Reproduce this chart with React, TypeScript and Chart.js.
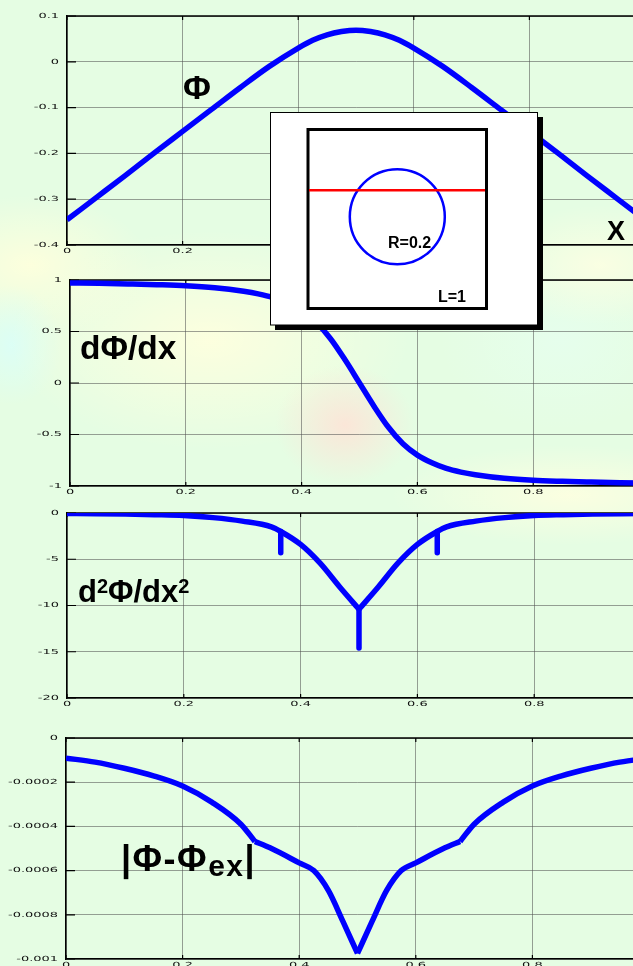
import React, { useEffect, useRef } from 'react';
import { Chart, registerables } from 'chart.js';

Chart.register(...registerables);

// ---------- data ----------
const X_TICKS = [0, 0.2, 0.4, 0.6, 0.8, 1];
const X_TICK_LABELS = ['0', '0.2', '0.4', '0.6', '0.8', '1'];

// Φ(x)
const PHI_X = [0, 0.05, 0.1, 0.15, 0.2, 0.25, 0.3, 0.35, 0.4, 0.425, 0.45, 0.475, 0.5, 0.525, 0.55, 0.575, 0.6, 0.65, 0.7, 0.75, 0.8, 0.85, 0.9, 0.95, 1];
const PHI_Y = [-0.345, -0.297, -0.249, -0.2, -0.152, -0.104, -0.056, -0.01, 0.03, 0.047, 0.059, 0.066, 0.069, 0.066, 0.059, 0.047, 0.03, -0.01, -0.056, -0.104, -0.152, -0.2, -0.249, -0.297, -0.345];
const PHI_Y_TICKS = [-0.4, -0.3, -0.2, -0.1, 0, 0.1];
const PHI_Y_LABELS = ['-0.4', '-0.3', '-0.2', '-0.1', '0', '0.1'];

// dΦ/dx
const DPHI_X = [0, 0.05, 0.1, 0.15, 0.2, 0.25, 0.3, 0.325, 0.35, 0.375, 0.4, 0.425, 0.45, 0.475, 0.5, 0.525, 0.55, 0.575, 0.6, 0.625, 0.65, 0.675, 0.7, 0.75, 0.8, 0.85, 0.9, 0.95, 1];
const DPHI_Y = [0.972, 0.968, 0.962, 0.955, 0.945, 0.925, 0.89, 0.865, 0.83, 0.775, 0.7, 0.59, 0.43, 0.225, 0, -0.225, -0.43, -0.59, -0.7, -0.775, -0.83, -0.865, -0.89, -0.925, -0.945, -0.955, -0.962, -0.968, -0.972];
const DPHI_Y_TICKS = [-1, -0.5, 0, 0.5, 1];
const DPHI_Y_LABELS = ['-1', '-0.5', '0', '0.5', '1'];

// d²Φ/dx²
const D2_X = [0, 0.05, 0.1, 0.15, 0.2, 0.25, 0.3, 0.35, 0.366, 0.4, 0.433, 0.467, 0.5, 0.533, 0.567, 0.6, 0.634, 0.65, 0.7, 0.75, 0.8, 0.85, 0.9, 0.95, 1];
const D2_Y = [-0.05, -0.08, -0.12, -0.18, -0.27, -0.5, -0.88, -1.5, -2.0, -3.4, -5.4, -8.0, -10.4, -8.0, -5.4, -3.4, -2.0, -1.5, -0.88, -0.5, -0.27, -0.18, -0.12, -0.08, -0.05];
const D2_BREAKS = [0, 0.5, 1];
const D2_SPIKE_X = [0.366, 0.5, 0.634];
const D2_SPIKE_TOP = [-2.0, -10.4, -2.0];
const D2_SPIKE_BOTTOM = [-4.3, -14.6, -4.3];
const D2_Y_TICKS = [-20, -15, -10, -5, 0];
const D2_Y_LABELS = ['-20', '-15', '-10', '-5', '0'];

// |Φ-Φex|
const ERR_X = [0, 0.05, 0.1, 0.15, 0.2, 0.25, 0.3, 0.324, 0.35, 0.4, 0.425, 0.45, 0.475, 0.5, 0.525, 0.55, 0.575, 0.6, 0.65, 0.676, 0.7, 0.75, 0.8, 0.85, 0.9, 0.95, 1];
const ERR_Y = [-0.000091, -0.000109, -0.000137, -0.000171, -0.000217, -0.00029, -0.00039, -0.000468, -0.000497, -0.000565, -0.0006, -0.00069, -0.00083, -0.000975, -0.00083, -0.00069, -0.0006, -0.000565, -0.000497, -0.000468, -0.00039, -0.00029, -0.000217, -0.000171, -0.000137, -0.000109, -0.000091];
const ERR_BREAKS = [0, 0.324, 0.5, 0.676, 1];
const ERR_Y_TICKS = [-0.001, -0.0008, -0.0006, -0.0004, -0.0002, 0];
const ERR_Y_LABELS = ['-0.001', '-0.0008', '-0.0006', '-0.0004', '-0.0002', '0'];

// ---------- helpers ----------
const BLUE = '#0000ff';
const LABEL_SX = 1.85;

function segments(xs: number[], ys: number[], breaks: number[]) {
  const out: { x: number; y: number }[][] = [];
  for (let i = 0; i < breaks.length - 1; i++) {
    const seg: { x: number; y: number }[] = [];
    xs.forEach((x, j) => {
      if (x >= breaks[i] - 1e-9 && x <= breaks[i + 1] + 1e-9) seg.push({ x, y: ys[j] });
    });
    out.push(seg);
  }
  return out;
}

function lineDs(data: { x: number; y: number }[], extra: any = {}) {
  return {
    data,
    borderColor: BLUE,
    borderWidth: 5.5,
    pointRadius: 0,
    fill: false,
    cubicInterpolationMode: 'monotone',
    borderCapStyle: 'butt',
    borderJoinStyle: 'round',
    ...extra,
  };
}

const framePlugin = {
  id: 'frame',
  beforeDatasetsDraw(chart: any) {
    const { ctx, chartArea: a, scales } = chart;
    ctx.save();
    ctx.strokeStyle = '#000';
    ctx.lineWidth = 1.5;
    ctx.beginPath();
    ctx.moveTo(a.left, a.top);
    ctx.lineTo(a.right, a.top);
    ctx.stroke();
    ctx.lineWidth = 1.2;
    ctx.beginPath();
    for (const t of scales.y.ticks) {
      const y = scales.y.getPixelForValue(t.value);
      ctx.moveTo(a.left, y);
      ctx.lineTo(a.left + 9, y);
    }
    for (const t of scales.x.ticks) {
      const x = scales.x.getPixelForValue(t.value);
      ctx.moveTo(x, a.bottom);
      ctx.lineTo(x, a.bottom - 4);
      ctx.moveTo(x, a.top);
      ctx.lineTo(x, a.top + 4);
    }
    ctx.stroke();
    ctx.restore();
  },
};

function makeLabelPlugin(yLabels: string[]) {
  return {
    id: 'stretchLabels',
    afterDraw(chart: any) {
      const { ctx, chartArea: a, scales } = chart;
      ctx.save();
      ctx.fillStyle = '#111';
      ctx.font = '7px "DejaVu Sans"';
      ctx.textBaseline = 'middle';
      scales.y.ticks.forEach((t: any, i: number) => {
        const y = scales.y.getPixelForValue(t.value);
        ctx.save();
        ctx.translate(a.left - 8, y);
        ctx.scale(LABEL_SX, 1);
        ctx.textAlign = 'right';
        ctx.fillText(yLabels[i], 0, 0);
        ctx.restore();
      });
      scales.x.ticks.forEach((t: any, i: number) => {
        const x = scales.x.getPixelForValue(t.value);
        ctx.save();
        ctx.translate(x, a.bottom + 6);
        ctx.scale(LABEL_SX, 1);
        ctx.textAlign = 'center';
        ctx.fillText(X_TICK_LABELS[i], 0, 0);
        ctx.restore();
      });
      ctx.restore();
    },
  };
}

type PanelProps = {
  plotLeft: number;
  plotRight: number;
  plotTop: number;
  plotBottom: number;
  datasets: any[];
  yTicks: number[];
  yLabels: string[];
};

const PAD_TOP = 16;
const PAD_RIGHT = 16;
const X_AXIS_H = 18;

function Panel({ plotLeft, plotRight, plotTop, plotBottom, datasets, yTicks, yLabels }: PanelProps) {
  const ref = useRef<HTMLCanvasElement | null>(null);
  const width = plotRight + PAD_RIGHT;
  const height = plotBottom - plotTop + PAD_TOP + X_AXIS_H;
  useEffect(() => {
    if (!ref.current) return;
    const gridColor = 'rgba(80,80,80,0.55)';
    const chart = new Chart(ref.current, {
      type: 'line',
      data: { datasets },
      options: {
        animation: false,
        responsive: false,
        maintainAspectRatio: false,
        events: [],
        layout: { padding: { top: PAD_TOP, right: PAD_RIGHT, left: 0, bottom: 0 } },
        plugins: { legend: { display: false }, tooltip: { enabled: false } },
        scales: {
          x: {
            type: 'linear',
            min: 0,
            max: 1,
            afterBuildTicks: (axis: any) => {
              axis.ticks = X_TICKS.map((v) => ({ value: v }));
            },
            afterFit: (axis: any) => {
              axis.height = X_AXIS_H;
            },
            ticks: { display: false },
            grid: { color: gridColor, lineWidth: 1, drawTicks: false },
            border: { color: '#000', width: 1.5 },
          },
          y: {
            type: 'linear',
            min: yTicks[0],
            max: yTicks[yTicks.length - 1],
            afterBuildTicks: (axis: any) => {
              axis.ticks = yTicks.map((v) => ({ value: v }));
            },
            afterFit: (axis: any) => {
              axis.width = plotLeft;
            },
            ticks: { display: false },
            grid: { color: gridColor, lineWidth: 1, drawTicks: false },
            border: { color: '#000', width: 1.5 },
          },
        },
      } as any,
      plugins: [framePlugin, makeLabelPlugin(yLabels)],
    });
    return () => chart.destroy();
  }, []);
  return (
    <canvas
      ref={ref}
      width={width}
      height={height}
      style={{ position: 'absolute', left: 0, top: plotTop - PAD_TOP, width, height }}
    />
  );
}

const FONT = "'Liberation Sans', Arial, sans-serif";

export default function App() {
  const phiData = [lineDs(PHI_X.map((x, i) => ({ x, y: PHI_Y[i] })))];
  const dphiData = [lineDs(DPHI_X.map((x, i) => ({ x, y: DPHI_Y[i] })))];
  const d2Data = [
    ...segments(D2_X, D2_Y, D2_BREAKS).map((s) => lineDs(s)),
    ...D2_SPIKE_X.map((x, i) =>
      lineDs(
        [
          { x, y: D2_SPIKE_TOP[i] },
          { x, y: D2_SPIKE_BOTTOM[i] },
        ],
        { cubicInterpolationMode: 'default', tension: 0 }
      )
    ),
  ];
  const errData = segments(ERR_X, ERR_Y, ERR_BREAKS).map((s) => lineDs(s));

  const bg = [
    'radial-gradient(ellipse 70px 60px at 345px 425px, rgba(255,226,214,0.85), rgba(255,226,214,0))',
    'radial-gradient(ellipse 200px 110px at 210px 340px, rgba(255,255,222,0.9), rgba(255,255,222,0))',
    'radial-gradient(ellipse 50px 60px at 12px 345px, rgba(218,255,250,0.8), rgba(218,255,250,0))',
    'radial-gradient(ellipse 120px 70px at 30px 265px, rgba(255,255,220,0.9), rgba(255,255,220,0))',
    'radial-gradient(ellipse 180px 50px at 570px 495px, rgba(255,255,224,0.85), rgba(255,255,224,0))',
    'radial-gradient(ellipse 110px 60px at 600px 265px, rgba(255,255,226,0.8), rgba(255,255,226,0))',
    'radial-gradient(ellipse 120px 90px at 560px 340px, rgba(230,255,240,0.7), rgba(230,255,240,0))',
  ].join(',');

  const txt = { fontFamily: FONT, fontWeight: 700, fill: '#000' } as any;

  return (
    <div
      style={{
        position: 'absolute',
        left: 0,
        top: 0,
        width: 633,
        height: 966,
        overflow: 'hidden',
        backgroundColor: '#e5fde3',
        backgroundImage: bg,
      }}
    >
      <Panel plotLeft={67} plotRight={645} plotTop={16} plotBottom={245} datasets={phiData} yTicks={PHI_Y_TICKS} yLabels={PHI_Y_LABELS} />
      <Panel plotLeft={70} plotRight={649} plotTop={280} plotBottom={486} datasets={dphiData} yTicks={DPHI_Y_TICKS} yLabels={DPHI_Y_LABELS} />
      <Panel plotLeft={67} plotRight={651} plotTop={513} plotBottom={698} datasets={d2Data} yTicks={D2_Y_TICKS} yLabels={D2_Y_LABELS} />
      <Panel plotLeft={66} plotRight={649} plotTop={738} plotBottom={959} datasets={errData} yTicks={ERR_Y_TICKS} yLabels={ERR_Y_LABELS} />

      <svg width={633} height={966} style={{ position: 'absolute', left: 0, top: 0, pointerEvents: 'none' }}>
        <text x={183} y={99} fontSize={34} {...txt}>Φ</text>
        <text x={607} y={240} fontSize={27} {...txt}>X</text>
        <text x={80} y={359} fontSize={33.5} {...txt}>dΦ/dx</text>
        <text x={78} y={602} fontSize={31} {...txt}>
          d<tspan fontSize={20} dy={-9}>2</tspan>
          <tspan dy={9}>Φ/dx</tspan>
          <tspan fontSize={20} dy={-9}>2</tspan>
        </text>
        <text x={121} y={871} fontSize={36} letterSpacing={1.5} {...txt}>
          |Φ-Φ<tspan fontSize={30} dy={5}>ex</tspan>
          <tspan dy={-5}>|</tspan>
        </text>

        {/* inset */}
        <rect x={275} y={117} width={268} height={213} fill="#000" />
        <rect x={270.5} y={112.5} width={267} height={212.5} fill="#fff" stroke="#000" strokeWidth={1} />
        <rect x={308} y={129.5} width={178.5} height={179} fill="none" stroke="#000" strokeWidth={3} />
        <circle cx={397.3} cy={216.7} r={47.5} fill="none" stroke="#0000ff" strokeWidth={2.5} />
        <line x1={309} y1={190.3} x2={485} y2={190.3} stroke="#ff0000" strokeWidth={2.5} />
        <text x={388} y={248} fontSize={16} {...txt}>R=0.2</text>
        <text x={438} y={301.5} fontSize={16} {...txt}>L=1</text>
      </svg>
    </div>
  );
}
